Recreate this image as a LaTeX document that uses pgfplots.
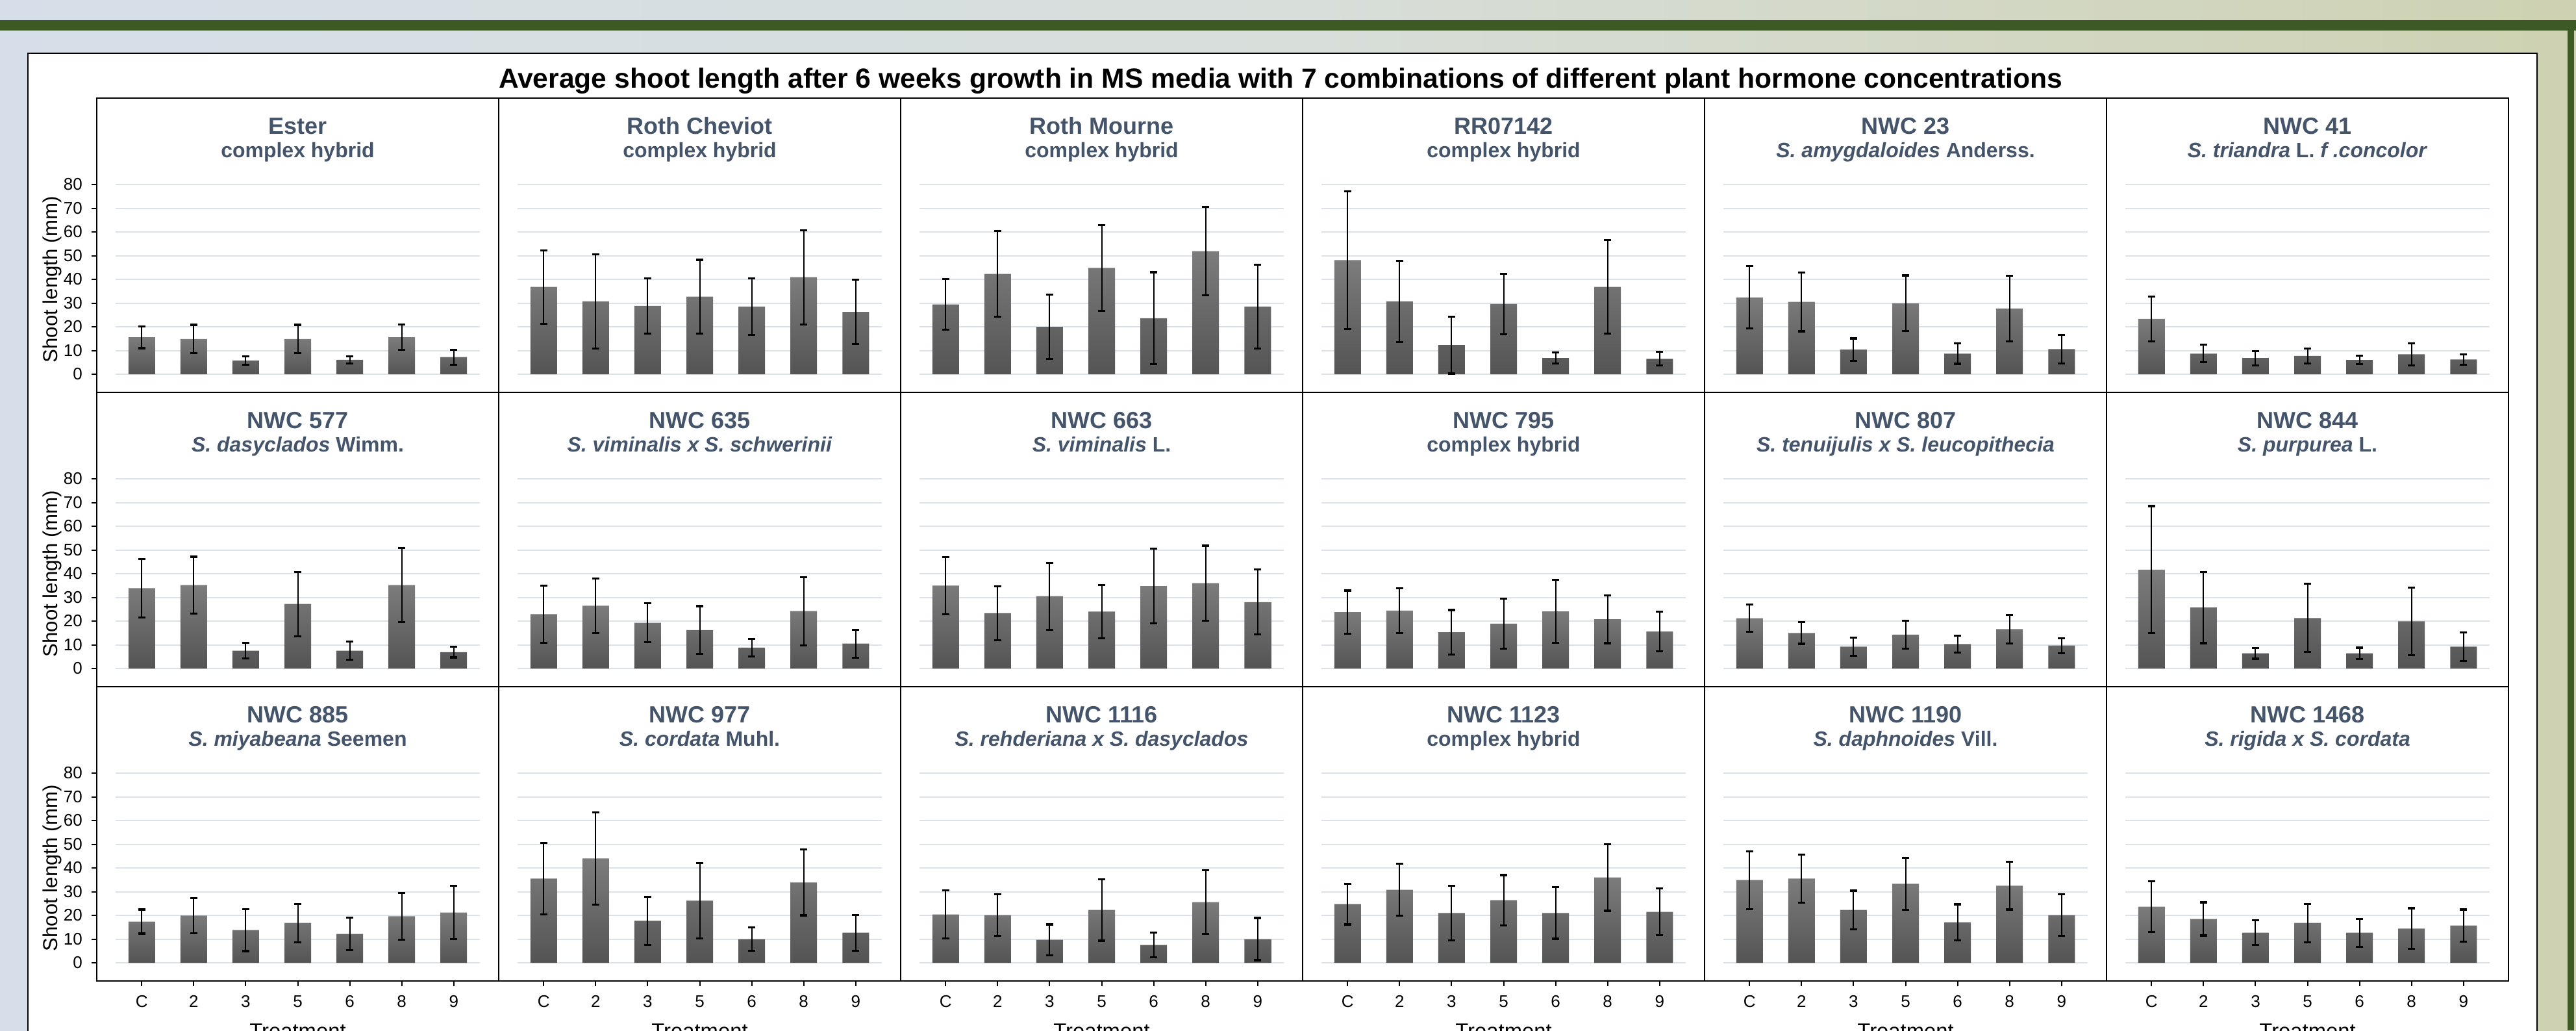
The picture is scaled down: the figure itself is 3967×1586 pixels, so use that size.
\documentclass[border=0pt]{standalone}
\usepackage{fontspec}
\setmainfont{Liberation Sans}
\usepackage{pgfplots}
\usepackage{pgfplotstable}
\pgfplotsset{compat=1.18}

\definecolor{bandgreen}{RGB}{61,90,36}
\definecolor{titleslate}{RGB}{68,84,106}
\definecolor{gridc}{RGB}{221,225,232}
\definecolor{bartop}{RGB}{124,124,124}
\definecolor{barbot}{RGB}{84,84,84}
\definecolor{bgL}{RGB}{214,223,233}
\definecolor{bgM}{RGB}{216,222,218}
\definecolor{bgR}{RGB}{206,210,178}

% mean shoot length (mm) and standard deviation per treatment
% x: 0=C, 1=2, 2=3, 3=5, 4=6, 5=8, 6=9
\pgfplotstableread{
x y e
0 15.6 4.65
1 14.8 6.0
2 5.8 1.8
3 14.8 6.0
4 6.1 1.5
5 15.6 5.4
6 7.2 3.15
}\dEster
\pgfplotstableread{
x y e
0 36.8 15.5
1 30.7 19.85
2 28.8 11.6
3 32.7 15.5
4 28.5 11.9
5 40.9 19.85
6 26.3 13.5
}\dCheviot
\pgfplotstableread{
x y e
0 29.4 10.7
1 42.3 18.1
2 20.0 13.5
3 44.8 18.0
4 23.6 19.4
5 51.9 18.7
6 28.5 17.75
}\dMourne
\pgfplotstableread{
x y e
0 48.1 29.1
1 30.7 17.05
2 12.3 12.0
3 29.6 12.8
4 6.8 2.35
5 36.8 19.75
6 6.5 2.85
}\dRR
\pgfplotstableread{
x y e
0 32.4 13.15
1 30.5 12.4
2 10.4 4.7
3 29.9 11.75
4 8.7 4.3
5 27.7 13.9
6 10.6 6.0
}\dNtwentythree
\pgfplotstableread{
x y e
0 23.3 9.45
1 8.7 3.7
2 6.8 3.0
3 7.7 3.2
4 6.0 1.85
5 8.4 4.65
6 6.2 2.15
}\dNfortyone
\pgfplotstableread{
x y e
0 33.9 12.3
1 35.2 11.95
2 7.5 3.35
3 27.2 13.55
4 7.5 3.85
5 35.2 15.65
6 6.9 2.25
}\dNfivesevenseven
\pgfplotstableread{
x y e
0 22.9 12.1
1 26.5 11.5
2 19.3 8.3
3 16.2 10.1
4 8.8 3.75
5 24.2 14.4
6 10.5 5.9
}\dNsixthreefive
\pgfplotstableread{
x y e
0 35.0 12.1
1 23.3 11.4
2 30.5 14.1
3 24.0 11.3
4 34.8 15.8
5 36.0 15.8
6 28.0 13.7
}\dNsixsixthree
\pgfplotstableread{
x y e
0 23.8 9.1
1 24.4 9.55
2 15.3 9.35
3 18.9 10.55
4 24.1 13.3
5 20.8 10.1
6 15.6 8.35
}\dNsevenninefive
\pgfplotstableread{
x y e
0 21.2 5.75
1 15.0 4.6
2 9.2 3.9
3 14.3 5.85
4 10.3 3.65
5 16.6 6.1
6 9.7 3.15
}\dNeightzeroseven
\pgfplotstableread{
x y e
0 41.7 26.8
1 25.7 15.0
2 6.4 2.3
3 21.3 14.35
4 6.4 2.4
5 19.9 14.2
6 9.2 5.95
}\dNeightfourfour
\pgfplotstableread{
x y e
0 17.4 5.05
1 19.9 7.35
2 13.8 8.85
3 16.8 8.1
4 12.2 6.8
5 19.6 9.95
6 21.2 11.2
}\dNeighteightfive
\pgfplotstableread{
x y e
0 35.5 15.05
1 44.0 19.45
2 17.7 10.05
3 26.2 15.9
4 10.0 5.0
5 33.9 13.9
6 12.7 7.55
}\dNnineseventyseven
\pgfplotstableread{
x y e
0 20.4 10.1
1 20.1 8.75
2 9.7 6.5
3 22.3 12.95
4 7.5 5.2
5 25.6 13.4
6 10.0 8.9
}\dNelevensixteen
\pgfplotstableread{
x y e
0 24.8 8.6
1 30.8 10.9
2 21.0 11.55
3 26.4 10.6
4 21.0 10.85
5 36.0 14.05
6 21.5 9.9
}\dNeleventwentythree
\pgfplotstableread{
x y e
0 34.9 12.2
1 35.5 10.15
2 22.3 8.1
3 33.3 11.0
4 17.1 7.55
5 32.5 10.05
6 20.1 8.75
}\dNelevenninety
\pgfplotstableread{
x y e
0 23.7 10.65
1 18.5 7.0
2 12.7 5.15
3 16.8 8.1
4 12.7 5.9
5 14.4 8.6
6 15.7 6.75
}\dNfourteensixtyeight

\pgfplotsset{
  panel/.style={
    anchor=north west, scale only axis,
    width=154.75pt, height=113.25pt,
    xmin=-0.865, xmax=6.865, ymin=-7.67, ymax=116.44,
    axis line style={black, line width=0.55pt},
    xtick=\empty, ytick=\empty,
    clip=false,
    tick style={black, line width=0.5pt},
    tick align=outside,
    major tick length=2pt,
    ticklabel style={font=\fontsize{6.5}{7.5}\selectfont},
    /pgf/number format/assume math mode=true,
  },
  leftcol/.style={ytick={0,10,...,80}, ytick pos=left},
  bottomrow/.style={xtick={0,...,6}, xticklabels={C,2,3,5,6,8,9}, xtick pos=left},
  barplot/.style={
    ybar, bar width=0.512, bar shift=0pt, draw=none,
    top color=bartop, bottom color=barbot,
    error bars/.cd, y dir=both, y explicit,
    error mark=|,
    error bar style={black, line width=0.5pt},
    error mark options={black, line width=0.8pt, mark size=1.4pt},
  },
}

% one panel: #1 column, #2 row, #3 table, #4 extra axis options
\newcommand{\panel}[4]{%
  \pgfmathsetmacro{\PL}{149+619*#1}%
  \pgfmathsetmacro{\PT}{151+453*#2}%
  \begin{axis}[panel, at={(\PL*0.25pt,-\PT*0.25pt)}, #4]
    \pgfplotsinvokeforeach{0,10,20,30,40,50,60,70,80}{%
      \draw[gridc, line width=0.5pt] (axis cs:-0.5,##1) -- (axis cs:6.5,##1);}
    \addplot[barplot] table[x=x, y=y, y error=e] {#3};
  \end{axis}}

% panel heading: #1 column, #2 row, #3 name, #4 taxon
\newcommand{\heading}[4]{%
  \pgfmathsetmacro{\HX}{149+619*#1+309.5}%
  \pgfmathsetmacro{\HY}{151+453*#2}%
  \node[anchor=base, text=titleslate, font=\bfseries\fontsize{9}{10}\selectfont]
    at (\HX,\HY+55) {#3};
  \node[anchor=base, text=titleslate, font=\bfseries\fontsize{8}{9}\selectfont]
    at (\HX,\HY+91.5) {#4};}

\begin{document}
\begin{tikzpicture}
\begin{scope}[x=0.25pt, y=-0.25pt]
  \useasboundingbox (0,0) rectangle (3967,1586);
  \clip (0,0) rectangle (3967,1586);
  % backdrop, header band and frame
  \shade[left color=bgL, right color=bgR, middle color=bgM] (0,0) rectangle (3967,1586);
  \fill[bandgreen] (0,31) rectangle (3967,47);
  \fill[bandgreen] (3954,47) rectangle (3964,1586);
  \fill[white] (43,82) rectangle (3907,1620);
  \draw[black, line width=0.7pt] (43,1620) -- (43,82) -- (3907,82) -- (3907,1620);

  \node[anchor=base, font=\bfseries\fontsize{10.65}{12}\selectfont] at (1972,135)
    {Average shoot length after 6 weeks growth in MS media with 7 combinations of different plant hormone concentrations};

  \foreach \r in {0,1,2} {
    \node[rotate=90, font=\fontsize{7.8}{9}\selectfont] at (80,{430+453*\r}) {Shoot length (mm)};
  }
  \foreach \c in {0,...,5} {
    \node[anchor=base, font=\fontsize{8.2}{9}\selectfont] at ({149+619*\c+309.5},1598) {Treatment};
  }

  \heading{0}{0}{Ester}{complex hybrid}
  \heading{1}{0}{Roth Cheviot}{complex hybrid}
  \heading{2}{0}{Roth Mourne}{complex hybrid}
  \heading{3}{0}{RR07142}{complex hybrid}
  \heading{4}{0}{NWC 23}{\textit{S. amygdaloides} Anderss.}
  \heading{5}{0}{NWC 41}{\textit{S. triandra} L. \textit{f .concolor}}
  \heading{0}{1}{NWC 577}{\textit{S. dasyclados} Wimm.}
  \heading{1}{1}{NWC 635}{\textit{S. viminalis x S. schwerinii}}
  \heading{2}{1}{NWC 663}{\textit{S. viminalis} L.}
  \heading{3}{1}{NWC 795}{complex hybrid}
  \heading{4}{1}{NWC 807}{\textit{S. tenuijulis x S. leucopithecia}}
  \heading{5}{1}{NWC 844}{\textit{S. purpurea} L.}
  \heading{0}{2}{NWC 885}{\textit{S. miyabeana} Seemen}
  \heading{1}{2}{NWC 977}{\textit{S. cordata} Muhl.}
  \heading{2}{2}{NWC 1116}{\textit{S. rehderiana x S. dasyclados}}
  \heading{3}{2}{NWC 1123}{complex hybrid}
  \heading{4}{2}{NWC 1190}{\textit{S. daphnoides} Vill.}
  \heading{5}{2}{NWC 1468}{\textit{S. rigida x S. cordata}}
\end{scope}

\panel{0}{0}{\dEster}{leftcol}
\panel{1}{0}{\dCheviot}{}
\panel{2}{0}{\dMourne}{}
\panel{3}{0}{\dRR}{}
\panel{4}{0}{\dNtwentythree}{}
\panel{5}{0}{\dNfortyone}{}
\panel{0}{1}{\dNfivesevenseven}{leftcol}
\panel{1}{1}{\dNsixthreefive}{}
\panel{2}{1}{\dNsixsixthree}{}
\panel{3}{1}{\dNsevenninefive}{}
\panel{4}{1}{\dNeightzeroseven}{}
\panel{5}{1}{\dNeightfourfour}{}
\panel{0}{2}{\dNeighteightfive}{leftcol, bottomrow}
\panel{1}{2}{\dNnineseventyseven}{bottomrow}
\panel{2}{2}{\dNelevensixteen}{bottomrow}
\panel{3}{2}{\dNeleventwentythree}{bottomrow}
\panel{4}{2}{\dNelevenninety}{bottomrow}
\panel{5}{2}{\dNfourteensixtyeight}{bottomrow}
\end{tikzpicture}
\end{document}
